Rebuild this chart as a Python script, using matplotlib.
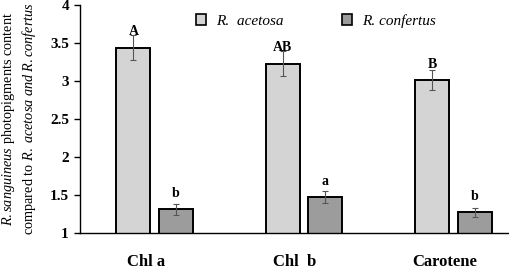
import numpy as np
import matplotlib
matplotlib.use("Agg")
from matplotlib import pyplot as plt
from matplotlib.patches import Patch

plt.rcParams["font.family"] = ["Liberation Serif", "DejaVu Serif"]
plt.rcParams["mathtext.fontset"] = "custom"
plt.rcParams["mathtext.rm"] = "Liberation Serif"
plt.rcParams["mathtext.it"] = "Liberation Serif:italic"

categories = ["Chl a", "Chl  b", "Carotene"]
acetosa = [3.44, 3.23, 3.01]
acetosa_err = [0.17, 0.17, 0.13]
confertus = [1.31, 1.47, 1.27]
confertus_err = [0.07, 0.08, 0.065]
acetosa_letters = ["A", "AB", "B"]
confertus_letters = ["b", "a", "b"]

W, H, dpi = 509, 269, 100
fig = plt.figure(figsize=(W / dpi, H / dpi), dpi=dpi)
# plot area runs past the right edge of the image, like the cropped original
ax = fig.add_axes([80 / W, 36 / H, 448 / W, 228 / H])

x = np.arange(len(categories))
bw = 0.228
off = bw / 2 + 0.028

ax.bar(x - off, acetosa, bw, color="#d4d4d4", edgecolor="black", lw=1.4, zorder=2)
ax.bar(x + off, confertus, bw, color="#9c9c9c", edgecolor="black", lw=1.4, zorder=2)
ax.errorbar(x - off, acetosa, yerr=acetosa_err, fmt="none", ecolor="#555555",
            elinewidth=0.8, capsize=2.5, capthick=0.8, zorder=3)
ax.errorbar(x + off, confertus, yerr=confertus_err, fmt="none", ecolor="#555555",
            elinewidth=0.8, capsize=2.5, capthick=0.8, zorder=3)

for i in range(len(categories)):
    ax.text(x[i] - off, acetosa[i] + 0.12, acetosa_letters[i], ha="center", va="bottom",
            fontsize=10, fontweight="bold", zorder=4)
    ax.text(x[i] + off, confertus[i] + 0.12, confertus_letters[i], ha="center", va="bottom",
            fontsize=10, fontweight="bold", zorder=4)

ax.set_xlim(-0.5, 2.5)
ax.set_ylim(1, 4)
ax.set_yticks([1, 1.5, 2, 2.5, 3, 3.5, 4])
ax.set_yticklabels(["1", "1.5", "2", "2.5", "3", "3.5", "4"])
ax.set_xticks(x - 0.06)
ax.set_xticklabels(categories)
ax.tick_params(axis="x", length=0, pad=15, labelsize=12)
ax.tick_params(axis="y", length=4, width=1, direction="out", labelsize=11, pad=4)
for lab in ax.get_xticklabels() + ax.get_yticklabels():
    lab.set_fontweight("bold")
ax.spines["top"].set_visible(False)
ax.spines["right"].set_visible(False)
ax.spines["left"].set_linewidth(1)
ax.spines["bottom"].set_linewidth(1)

fig.text(19 / W, 1 - 119 / H,
         "$\\mathit{R.sanguineus}$ photopigments content\n"
         "compared to $\\mathit{R.\\ acetosa\\ and\\ R.confertus}$",
         rotation=90, ha="center", va="center", multialignment="center",
         fontsize=10.3, linespacing=1.25)

handles = [Patch(facecolor="#d4d4d4", edgecolor="black", lw=1.2),
           Patch(facecolor="#9c9c9c", edgecolor="black", lw=1.2)]
fig.legend(handles, ["R.  acetosa", "R. confertus"], loc="center",
           bbox_to_anchor=(316 / W, 1 - 21 / H), ncol=2, frameon=False,
           prop={"style": "italic", "size": 11}, handlelength=0.65,
           handleheight=0.65, handletextpad=0.7, columnspacing=3.8)

fig.savefig("out.png", dpi=dpi)
